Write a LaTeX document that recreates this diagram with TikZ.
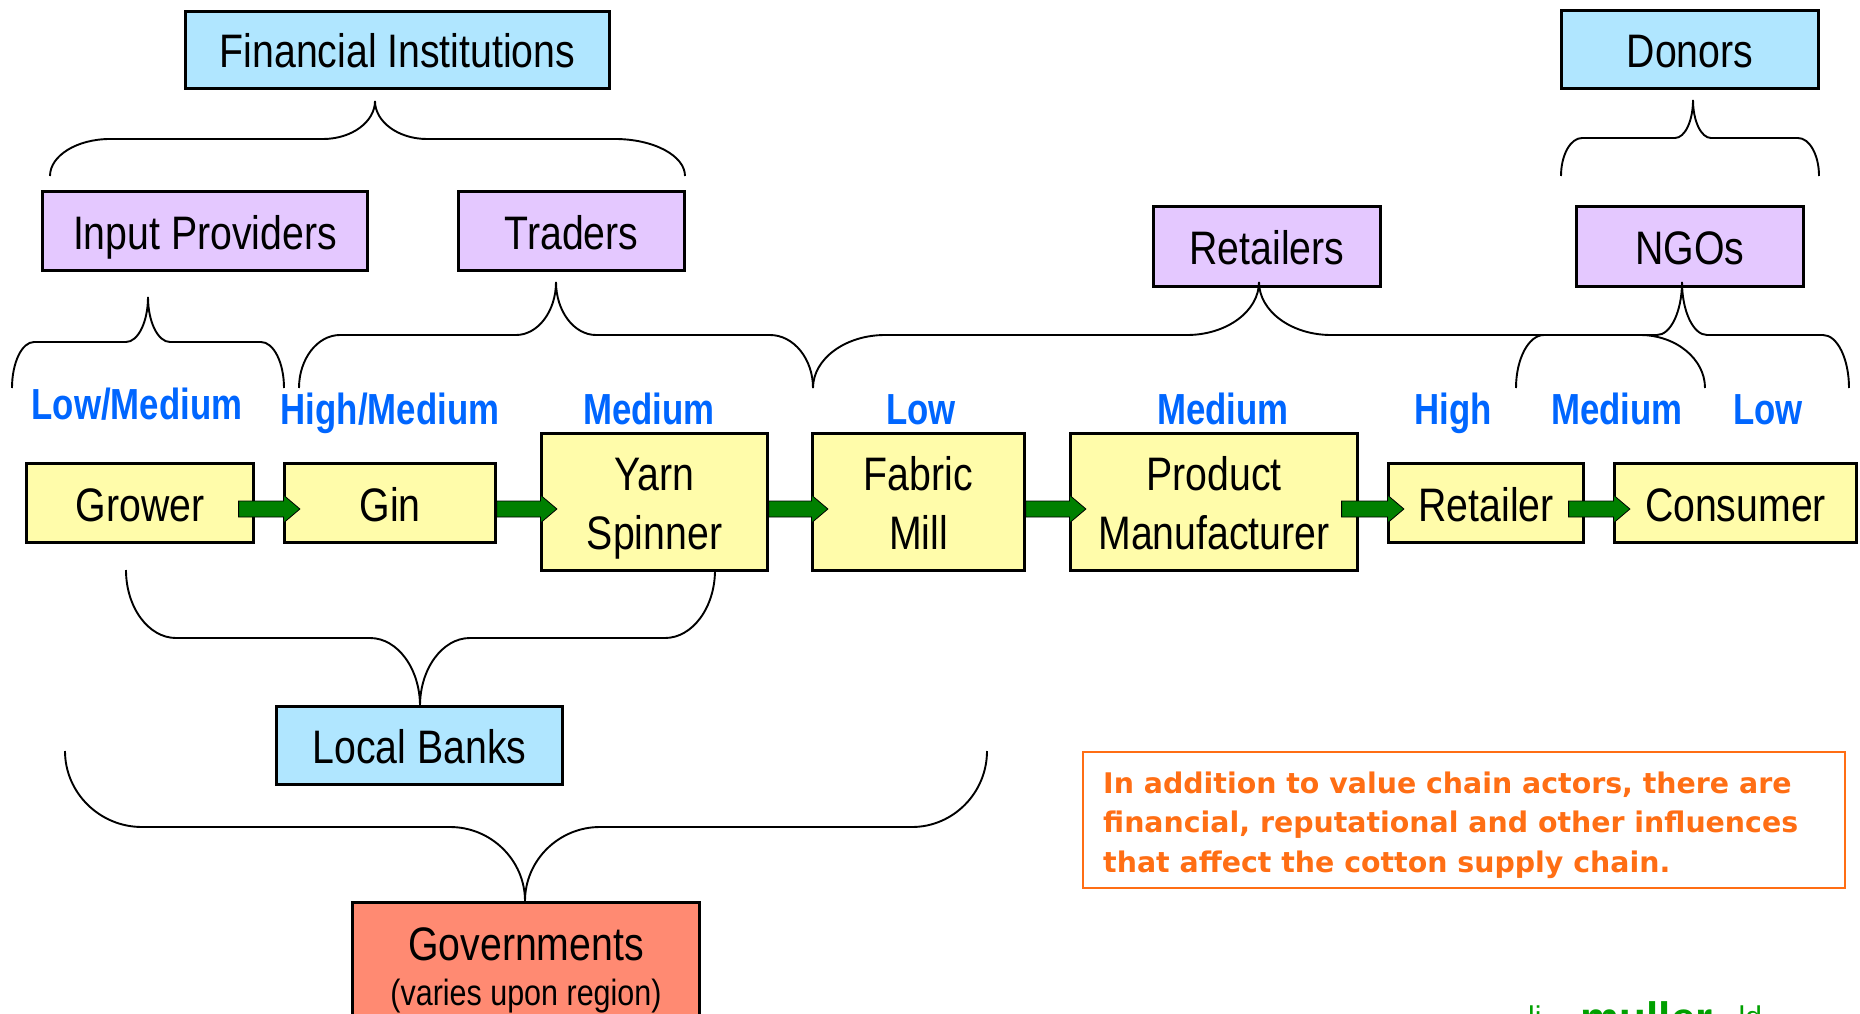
\documentclass[tikz,border=0pt]{standalone}
\usepackage{fontspec}
\setmainfont[FakeStretch=0.835]{Liberation Sans}
\newfontfamily\levelfont[FakeStretch=0.80]{Liberation Sans}
\newfontfamily\callout{DejaVu Sans}
\newfontfamily\brand{Liberation Sans}
\usetikzlibrary{calc}
\definecolor{boxyellow}{HTML}{FFFCAA}
\definecolor{boxblue}{HTML}{B0E6FF}
\definecolor{boxpurple}{HTML}{E4C8FF}
\definecolor{boxred}{HTML}{FF8A72}
\definecolor{flowgreen}{HTML}{008000}
\definecolor{levelblue}{HTML}{0066FF}
\definecolor{noteorange}{HTML}{FF6E14}
\definecolor{brandgreen}{HTML}{00A000}
\newcommand{\ls}{\rule[-10pt]{0pt}{56pt}}
\tikzset{
  actor/.style={draw=black,line width=2.4pt,inner sep=0pt,align=center,
    font=\fontsize{47}{59}\selectfont},
  level/.style={anchor=base,text=levelblue,inner sep=0pt,font=\levelfont\bfseries\fontsize{43.5}{44}\selectfont},
  flowarrow/.style={fill=flowgreen,draw=black,line width=0.8pt,line join=miter},
  bracket/.style={draw=black,line width=1.9pt},
}
% name, x1, y1, x2, y2, fill, text
\newcommand{\actorbox}[7]{%
  \pgfmathsetmacro{\cxv}{(#2+#4)/2}\pgfmathsetmacro{\cyv}{(#3+#5)/2}%
  \pgfmathsetmacro{\wv}{#4-#2-1.2}\pgfmathsetmacro{\hv}{#5-#3-1.2}%
  \node[actor,fill=#6,minimum width=\wv pt,minimum height=\hv pt] (#1) at (\cxv,\cyv) {#7};%
}
% from, to, overlap into the source
\newcommand{\flowlink}[3]{%
  \draw[flowarrow]
    ($(#1.east |- 0,501)+(-#3,0)$) -- ($(#2.west |- 0,501)$) -- ($(#2.west |- 0,495)$)
    -- ($(#2.west |- 0,509)+(16.5,0)$) -- ($(#2.west |- 0,523)$) -- ($(#2.west |- 0,517)$)
    -- ($(#1.east |- 0,517)+(-#3,0)$) -- cycle;%
}
% name, xL, xTip, xR, yEnd, yBar, yTip, rL, rT, rR
\newcommand{\bracepath}[9]{%
  \pgfmathsetmacro{\aax}{#2+0.45*#8}\pgfmathsetmacro{\abx}{#2+#8}%
  \pgfmathsetmacro{\ay}{#6+0.45*(#5-#6)}%
  \pgfmathsetmacro{\bax}{#3-#9}\pgfmathsetmacro{\bbx}{#3-0.45*#9}%
  \pgfmathsetmacro{\by}{#6+0.45*(#7-#6)}%
  \pgfmathsetmacro{\cax}{#3+0.45*#9}\pgfmathsetmacro{\cbx}{#3+#9}%
  \bracefinish{#1}{#2}{#3}{#4}{#5}{#6}{#7}%
}
\newcommand{\bracefinish}[7]{%
  \coordinate (#1L) at (#2,#5);\coordinate (#1T) at (#3,#7);\coordinate (#1R) at (#4,#5);%
  \draw[bracket] (#1L) .. controls (#2,\ay) and (\aax,#6) .. (\abx,#6) -- (\bax,#6)
    .. controls (\bbx,#6) and (#3,\by) .. (#1T)
    .. controls (#3,\by) and (\cax,#6) .. (\cbx,#6) -- (\dax,#6)
    .. controls (\dbx,#6) and (#4,\ay) .. (#1R);%
}
\newcommand{\rightcorner}[2]{%
  \pgfmathsetmacro{\dax}{#1-#2}\pgfmathsetmacro{\dbx}{#1-0.45*#2}%
}
\begin{document}
\begin{tikzpicture}[x=1pt,y=-1pt]
\useasboundingbox (0,0) rectangle (1860,1014);
\fill[white] (0,0) rectangle (1860,1014);
% top row
\actorbox{fin}{185}{11}{610}{89}{boxblue}{\ls Financial Institutions}
\actorbox{donors}{1561}{10}{1819}{89}{boxblue}{\ls Donors}
\actorbox{input}{42}{191}{368}{271}{boxpurple}{\ls Input Providers}
\actorbox{traders}{458}{191}{685}{271}{boxpurple}{\ls Traders}
\actorbox{retailers}{1153}{206}{1381}{287}{boxpurple}{\ls Retailers}
\actorbox{ngos}{1576}{206}{1804}{287}{boxpurple}{\ls NGOs}
% chain
\actorbox{grower}{26}{463}{254}{543}{boxyellow}{\ls Grower}
\actorbox{gin}{284}{463}{496}{543}{boxyellow}{\ls Gin}
\actorbox{yarn}{541}{433}{768}{571}{boxyellow}{\ls Yarn\\\ls Spinner}
\actorbox{fabric}{812}{433}{1025}{571}{boxyellow}{\ls Fabric\\\ls Mill}
\actorbox{product}{1070}{433}{1358}{571}{boxyellow}{\ls Product\\\ls Manufacturer}
\actorbox{retailer}{1388}{463}{1584}{543}{boxyellow}{\ls Retailer}
\actorbox{consumer}{1614}{463}{1857}{543}{boxyellow}{\ls Consumer}
\actorbox{banks}{276}{706}{563}{785}{boxblue}{\ls Local Banks}
\actorbox{gov}{352}{902}{700}{1028}{boxred}{\ls Governments\\[-14pt]{\fontsize{36.5}{40}\selectfont \ls (varies upon region)}}
% flows
\flowlink{grower}{gin}{16}
\flowlink{gin}{yarn}{0}
\flowlink{yarn}{fabric}{0}
\flowlink{fabric}{product}{0}
\flowlink{product}{retailer}{17}
\flowlink{retailer}{consumer}{16}
% levels
\node[level] (l1) at (137,419) {Low/Medium};
\node[level] (l2) at (390,424) {High/Medium};
\node[level] (l3) at (649,424) {Medium};
\node[level] (l4) at (921,424) {Low};
\node[level] (l5) at (1223,424) {Medium};
\node[level] (l6) at (1453,424) {High};
\node[level] (l7) at (1617,424) {Medium};
\node[level] (l8) at (1768,424) {Low};
% braces
\rightcorner{685}{70}\bracepath{bfin}{50}{375}{685}{176}{139}{101}{60}{52}
\rightcorner{284}{23}\bracepath{binput}{12}{148}{284}{388}{342}{297}{22}{22}
\rightcorner{813}{43}\bracepath{btraders}{299}{556}{813}{388}{335}{282}{41}{40}
\rightcorner{1705}{65}\bracepath{bretailers}{813}{1259}{1705}{388}{335}{282}{72}{72}
\rightcorner{1849}{26}\bracepath{bngos}{1516}{1682}{1849}{388}{335}{282}{28}{25}
\rightcorner{1819}{21}\bracepath{bdonors}{1561}{1693}{1819}{176}{138}{100}{21}{18}
\rightcorner{715}{50}\bracepath{bbanks}{126}{420}{715}{570}{638}{706}{50}{50}
\rightcorner{987}{75}\bracepath{bgov}{65}{525}{987}{751}{827}{901}{77}{75}
% note
\node[draw=noteorange,line width=1.5pt,minimum width=762pt,minimum height=136pt,inner sep=0pt] (note) at (1464,820) {};
\node[anchor=west,inner sep=0pt,text=noteorange,align=left,font=\callout\bfseries\fontsize{28.4}{39.5}\selectfont] (notetext) at (1103,825)
  {In addition to value chain actors, there are\\financial, reputational and other influences\\that affect the cotton supply chain.};
% brand
\node[anchor=base west,inner sep=0pt,text=brandgreen,font=\brand\fontsize{30}{30}\selectfont] (brand) at (1528,1027)
  {li\hspace{39pt}\raisebox{-6pt}{\bfseries\fontsize{44}{44}\selectfont muller}\hspace{26pt}ld};
\end{tikzpicture}
\end{document}
